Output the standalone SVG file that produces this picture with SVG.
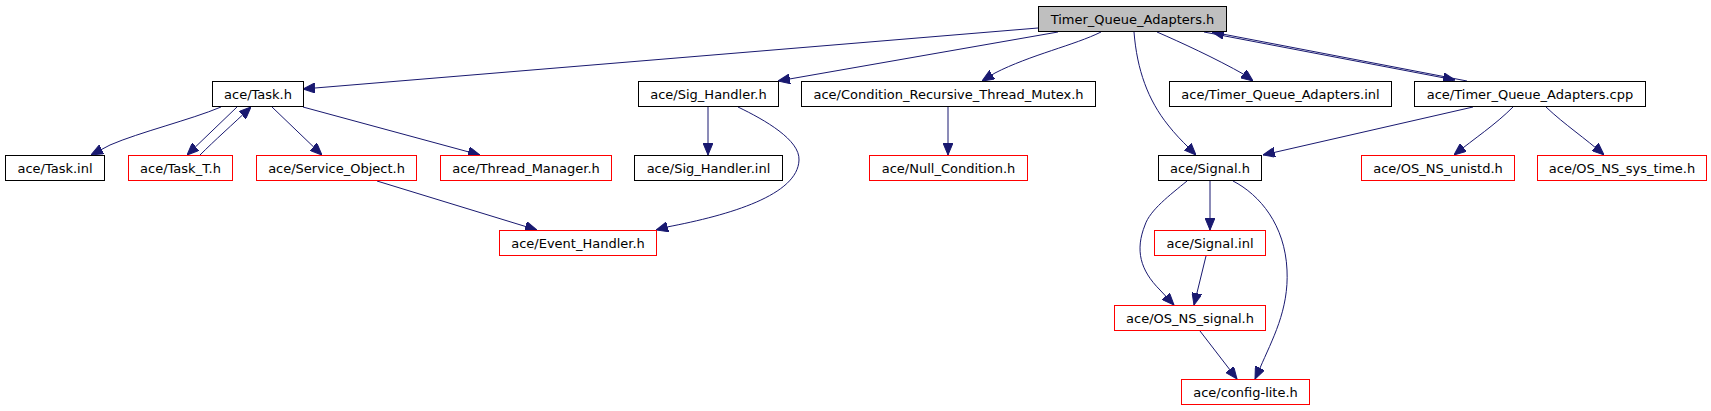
<svg xmlns="http://www.w3.org/2000/svg" width="1711" height="411" viewBox="0 0 1711 411">
<style>
.n rect{fill:#ffffff;stroke:#000000;stroke-width:1}
.n.ext rect{stroke:#ff0000}
.n.root rect{fill:#bfbfbf}
.n text{font-family:"DejaVu Sans",sans-serif;font-size:13px;fill:#000000;text-anchor:middle}
#edges path{fill:none;stroke:#191970;stroke-width:1;marker-end:url(#ah)}
</style>
<defs>
<marker id="ah" markerUnits="userSpaceOnUse" markerWidth="12" markerHeight="10" refX="12" refY="5" orient="auto" viewBox="0 0 12 10">
<path d="M0,0 L12,5 L0,10 z" fill="#191970" stroke="#191970" stroke-width="1"/>
</marker>
</defs>
<rect width="1711" height="411" fill="#ffffff"/>
<g id="edges">
<path d="M1038,28 L303,89"/>
<path d="M1058,32 L778,81"/>
<path d="M1101,32 C1075,45 1030,55 995,73 L982,81"/>
<path d="M1134,32 C1137,70 1148,100 1168,125 C1175,134 1182,141 1188,147 L1196,155"/>
<path d="M1157,32 C1180,42 1215,58 1245,75 L1253,81"/>
<path d="M1204,32 L1455,80"/>
<path d="M1467,81 L1212,32"/>
<path d="M221,107 C190,120 140,132 110,145 L91,155"/>
<path d="M237,107 L187,155"/>
<path d="M200,155 C215,140 232,125 251,107"/>
<path d="M272,107 L322,155"/>
<path d="M303,107 L480,155"/>
<path d="M708,107 L708,155"/>
<path d="M738,107 C765,120 800,140 799,160 C798,195 730,215 667,227 L656,230"/>
<path d="M377,181 L537,230"/>
<path d="M948,107 L948,155"/>
<path d="M1473,107 L1263,155"/>
<path d="M1513,107 C1495,125 1475,138 1454,155"/>
<path d="M1546,107 C1565,125 1585,138 1604,155"/>
<path d="M1210,181 L1210,230"/>
<path d="M1187,181 C1170,195 1150,210 1145,225 C1135,250 1140,270 1160,290 L1174,305"/>
<path d="M1233,181 C1260,195 1285,225 1287,270 C1289,310 1272,340 1260,368 L1255,379"/>
<path d="M1206,256 L1194,305"/>
<path d="M1200,331 L1237,379"/>
</g>
<g id="n_root" class="n root"><rect x="1038.5" y="6.5" width="188" height="25"/><text x="1132.5" y="23.5">Timer_Queue_Adapters.h</text></g>
<g id="n_task_h" class="n"><rect x="212.5" y="81.5" width="91" height="25"/><text x="258" y="98.5">ace/Task.h</text></g>
<g id="n_task_inl" class="n"><rect x="5.5" y="155.5" width="99" height="25"/><text x="55" y="172.5">ace/Task.inl</text></g>
<g id="n_task_t" class="n ext"><rect x="128.5" y="155.5" width="104" height="25"/><text x="180.5" y="172.5">ace/Task_T.h</text></g>
<g id="n_service_object" class="n ext"><rect x="256.5" y="155.5" width="160" height="25"/><text x="336.5" y="172.5">ace/Service_Object.h</text></g>
<g id="n_thread_manager" class="n ext"><rect x="440.5" y="155.5" width="171" height="25"/><text x="526" y="172.5">ace/Thread_Manager.h</text></g>
<g id="n_sig_handler_h" class="n"><rect x="638.5" y="81.5" width="140" height="25"/><text x="708.5" y="98.5">ace/Sig_Handler.h</text></g>
<g id="n_sig_handler_inl" class="n"><rect x="634.5" y="155.5" width="148" height="25"/><text x="708.5" y="172.5">ace/Sig_Handler.inl</text></g>
<g id="n_event_handler" class="n ext"><rect x="499.5" y="230.5" width="157" height="25"/><text x="578" y="247.5">ace/Event_Handler.h</text></g>
<g id="n_condition" class="n"><rect x="801.5" y="81.5" width="294" height="25"/><text x="948.5" y="98.5">ace/Condition_Recursive_Thread_Mutex.h</text></g>
<g id="n_null_condition" class="n ext"><rect x="869.5" y="155.5" width="158" height="25"/><text x="948.5" y="172.5">ace/Null_Condition.h</text></g>
<g id="n_signal_h" class="n"><rect x="1158.5" y="155.5" width="103" height="25"/><text x="1210" y="172.5">ace/Signal.h</text></g>
<g id="n_tqa_inl" class="n"><rect x="1169.5" y="81.5" width="222" height="25"/><text x="1280.5" y="98.5">ace/Timer_Queue_Adapters.inl</text></g>
<g id="n_tqa_cpp" class="n"><rect x="1414.5" y="81.5" width="231" height="25"/><text x="1530" y="98.5">ace/Timer_Queue_Adapters.cpp</text></g>
<g id="n_os_ns_unistd" class="n ext"><rect x="1361.5" y="155.5" width="153" height="25"/><text x="1438" y="172.5">ace/OS_NS_unistd.h</text></g>
<g id="n_os_ns_sys_time" class="n ext"><rect x="1537.5" y="155.5" width="169" height="25"/><text x="1622" y="172.5">ace/OS_NS_sys_time.h</text></g>
<g id="n_signal_inl" class="n ext"><rect x="1154.5" y="230.5" width="111" height="25"/><text x="1210" y="247.5">ace/Signal.inl</text></g>
<g id="n_os_ns_signal" class="n ext"><rect x="1114.5" y="305.5" width="151" height="25"/><text x="1190" y="322.5">ace/OS_NS_signal.h</text></g>
<g id="n_config_lite" class="n ext"><rect x="1181.5" y="379.5" width="128" height="25"/><text x="1245.5" y="396.5">ace/config-lite.h</text></g>
</svg>
